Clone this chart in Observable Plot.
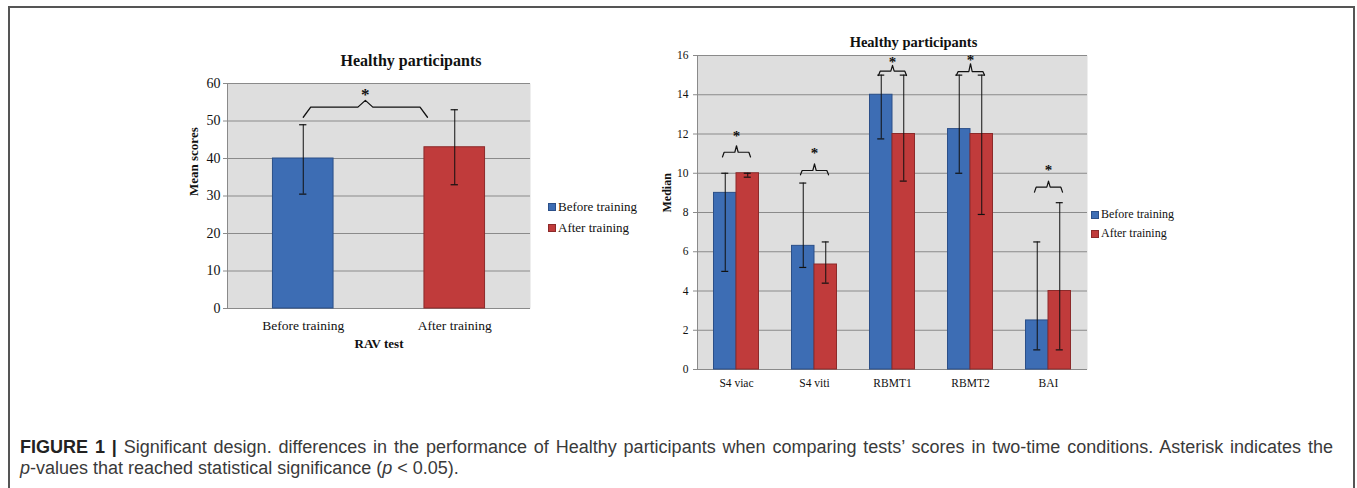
<!DOCTYPE html>
<html>
<head>
<meta charset="utf-8">
<script src="https://cdn.jsdelivr.net/npm/d3@7"></script>
<script src="https://cdn.jsdelivr.net/npm/@observablehq/plot@0.6"></script>
<style>
  body { margin: 0; width: 1357px; height: 488px; background: #fff; position: relative; overflow: hidden; font-family: "Liberation Serif", serif; }
  #frame { position: absolute; left: 8px; top: 6px; width: 1347px; height: 520px; border: 2px solid #555; box-sizing: border-box; }
  .chart { position: absolute; top: 0; }
  .legend { position: absolute; font-family: "Liberation Serif", serif; color: #111; white-space: nowrap; }
  .legend div { display: flex; align-items: center; }
  .sw { display: inline-block; width: 6px; height: 6px; margin-right: 2px; border: 1px solid; }
  .cap { position: absolute; left: 20px; font-family: "Liberation Sans", sans-serif; font-size: 18px; color: #3a3a3a; line-height: 22px; white-space: nowrap; }
  #cap1 { top: 436px; width: 1313px; text-align: justify; text-align-last: justify; white-space: normal; }
  #cap2 { top: 457px; }
  .cap b { color: #222; }
</style>
</head>
<body>
<div id="frame"></div>
<div id="left" class="chart" style="left:0px"></div>
<div id="right" class="chart" style="left:600px"></div>
<div id="legendL" class="legend" style="left:548px; top:196px; font-size:13px; line-height:21px;"></div>
<div id="legendR" class="legend" style="left:1091px; top:205px; font-size:12px; line-height:19px;"></div>
<div id="cap1" class="cap"><b>FIGURE 1 |</b> Significant design. differences in the performance of Healthy participants when comparing tests’ scores in two-time conditions. Asterisk indicates the</div>
<div id="cap2" class="cap"><i>p</i>-values that reached statistical significance (<i>p</i> &lt; 0.05).</div>
<script>
// ---------- data ----------
const seriesNames = ["Before training", "After training"];
const seriesColors = ["#3d6db4", "#c03b3b"];
const seriesStrokes = ["#2b4f88", "#8c2a2a"];

// Left chart: RAV test (means)
const leftCategories = ["Before training", "After training"];
const leftMeans = [40, 43];
const leftErrLow = [30.5, 33];
const leftErrHigh = [49, 53];
const leftYTicks = [0, 10, 20, 30, 40, 50, 60];
const leftBracketLine = [53.7];
const leftBracketEnd = [51];
const leftBracketTip = [55.5];
const leftStar = [58];

// Right chart: medians
const rightTests = ["S4 viac", "S4 viti", "RBMT1", "RBMT2", "BAI"];
const beforeMedian = [9, 6.3, 14, 12.25, 2.5];
const afterMedian = [10, 5.35, 12, 12, 4];
const beforeLow = [5, 5.2, 11.75, 10, 1];
const beforeHigh = [10, 9.5, 15, 15, 6.5];
const afterLow = [9.8, 4.4, 9.6, 7.9, 1];
const afterHigh = [10, 6.5, 15, 15, 8.5];
const rightYTicks = [0, 2, 4, 6, 8, 10, 12, 14, 16];
const bracketLine = [11.07, 10.14, 15.2, 15.18, 9.29];
const bracketEnd = [10.83, 9.92, 14.98, 15.0, 9.04];
const bracketTip = [11.4, 10.48, 15.5, 15.58, 9.6];
const starY = [12.1, 11.25, 15.86, 15.95, 10.34];

// ---------- helpers ----------
const BG = "#dedede", GRID = "#8a8a8a";
function bracketPts(xL, xR, line, end, tip, key) {
  const xM = (xL + xR) / 2, d = (xR - xL) * 0.06;
  return [[xL, end], [xL + d, line], [xM - d, line], [xM, tip], [xM + d, line], [xR - d, line], [xR, end]]
    .map(([x, y]) => ({x, y, key}));
}

// ---------- left chart ----------
const lHalf = 0.2, capL = 0.024;
const leftRows = leftCategories.map((c, i) => ({
  cat: c, slot: i + 0.5, mean: leftMeans[i], lo: leftErrLow[i], hi: leftErrHigh[i],
  fill: seriesColors[i], stroke: seriesStrokes[i]
}));
const leftBr = bracketPts(0.5, 1.32, leftBracketLine[0], leftBracketEnd[0], leftBracketTip[0], "b");
const leftStarRows = [{x: 0.91, y: leftStar[0]}];

const leftPlot = Plot.plot({
  width: 560, height: 360,
  marginLeft: 227, marginRight: 30, marginTop: 83, marginBottom: 52,
  style: {fontFamily: "Liberation Serif, serif", color: "#111", background: "transparent"},
  x: {domain: [0, 2], axis: null},
  y: {domain: [0, 60], axis: null},
  marks: [
    Plot.frame({fill: BG, stroke: null}),
    Plot.gridY(leftYTicks, {stroke: GRID, strokeOpacity: 1, strokeWidth: 1}),
    Plot.ruleX([0], {stroke: GRID, strokeWidth: 1}),
    Plot.rect(leftRows, {x1: d => d.slot - lHalf, x2: d => d.slot + lHalf, y1: d => 0, y2: "mean", fill: "fill", stroke: "stroke", strokeWidth: 1}),
    Plot.ruleX(leftRows, {x: "slot", y1: "lo", y2: "hi", stroke: "#111", strokeWidth: 1}),
    Plot.ruleY(leftRows, {y: "lo", x1: d => d.slot - capL, x2: d => d.slot + capL, stroke: "#111", strokeWidth: 1.2}),
    Plot.ruleY(leftRows, {y: "hi", x1: d => d.slot - capL, x2: d => d.slot + capL, stroke: "#111", strokeWidth: 1.2}),
    Plot.line(leftBr, {x: "x", y: "y", z: "key", stroke: "#111", strokeWidth: 1.3}),
    Plot.text(leftStarRows, {x: "x", y: "y", text: d => "*", fontSize: 17, fontWeight: "bold", dy: 4}),
    Plot.axisY(leftYTicks, {tickSize: 4, tickPadding: 3, fontSize: 14, stroke: GRID, label: null}),
    Plot.axisX(leftRows.map(d => d.slot), {tickSize: 0, tickPadding: 12, fontSize: 13.5, tickFormat: d => leftCategories[Math.floor(d)], label: null}),
    Plot.text(["Mean scores"], {frameAnchor: "left", rotate: -90, dx: -34, fontSize: 13, fontWeight: "bold"}),
    Plot.text(["RAV test"], {frameAnchor: "bottom", lineAnchor: "middle", dy: 35, fontSize: 13, fontWeight: "bold"}),
    Plot.text(["Healthy participants"], {frameAnchor: "top", lineAnchor: "middle", dy: -23, dx: 32, fontSize: 16, fontWeight: "bold"})
  ]
});
document.getElementById("left").appendChild(leftPlot);

// ---------- right chart ----------
const rHalf = 0.2885, capR = 0.045;
const rightBars = [];
const rightErr = [];
rightTests.forEach((t, i) => {
  const c = i + 0.5;
  rightBars.push({x1: c - rHalf, x2: c, v: beforeMedian[i], fill: seriesColors[0], stroke: seriesStrokes[0]});
  rightBars.push({x1: c, x2: c + rHalf, v: afterMedian[i], fill: seriesColors[1], stroke: seriesStrokes[1]});
  rightErr.push({x: c - rHalf / 2, lo: beforeLow[i], hi: beforeHigh[i]});
  rightErr.push({x: c + rHalf / 2, lo: afterLow[i], hi: afterHigh[i]});
});
const rightBr = rightTests.flatMap((t, i) => bracketPts(i + 0.5 - 0.18, i + 0.5 + 0.18, bracketLine[i], bracketEnd[i], bracketTip[i], t));
const rightStars = rightTests.map((t, i) => ({x: i + 0.5, y: starY[i]}));

const rightPlot = Plot.plot({
  width: 520, height: 400,
  marginLeft: 97, marginRight: 33, marginTop: 55, marginBottom: 31,
  style: {fontFamily: "Liberation Serif, serif", color: "#111", background: "transparent"},
  x: {domain: [0, 5], axis: null},
  y: {domain: [0, 16], axis: null},
  marks: [
    Plot.frame({fill: BG, stroke: null}),
    Plot.gridY(rightYTicks, {stroke: GRID, strokeOpacity: 1, strokeWidth: 1}),
    Plot.ruleX([0], {stroke: GRID, strokeWidth: 1}),
    Plot.rect(rightBars, {x1: "x1", x2: "x2", y1: d => 0, y2: "v", fill: "fill", stroke: "stroke", strokeWidth: 1}),
    Plot.ruleX(rightErr, {x: "x", y1: "lo", y2: "hi", stroke: "#111", strokeWidth: 1}),
    Plot.ruleY(rightErr, {y: "lo", x1: d => d.x - capR, x2: d => d.x + capR, stroke: "#111", strokeWidth: 1.2}),
    Plot.ruleY(rightErr, {y: "hi", x1: d => d.x - capR, x2: d => d.x + capR, stroke: "#111", strokeWidth: 1.2}),
    Plot.line(rightBr, {x: "x", y: "y", z: "key", stroke: "#111", strokeWidth: 1.2}),
    Plot.text(rightStars, {x: "x", y: "y", text: d => "*", fontSize: 15, fontWeight: "bold", dy: 4}),
    Plot.axisY(rightYTicks, {tickSize: 4, tickPadding: 5, fontSize: 11.5, stroke: GRID, label: null}),
    Plot.axisX(rightTests.map((t, i) => i + 0.5), {tickSize: 0, tickPadding: 9, fontSize: 11.5, tickFormat: d => rightTests[Math.floor(d)], label: null}),
    Plot.text(["Median"], {frameAnchor: "left", rotate: -90, dx: -30, fontSize: 12, fontWeight: "bold"}),
    Plot.text(["Healthy participants"], {frameAnchor: "top", lineAnchor: "middle", dy: -13, dx: 21, fontSize: 14.5, fontWeight: "bold"})
  ]
});
document.getElementById("right").appendChild(rightPlot);

// ---------- legends ----------
function legend(id) {
  const el = document.getElementById(id);
  seriesNames.forEach((n, i) => {
    const row = document.createElement("div");
    const sw = document.createElement("span");
    sw.className = "sw";
    sw.style.background = seriesColors[i];
    sw.style.borderColor = seriesStrokes[i];
    row.appendChild(sw);
    row.appendChild(document.createTextNode(n));
    el.appendChild(row);
  });
}
legend("legendL");
legend("legendR");
</script>
</body>
</html>
